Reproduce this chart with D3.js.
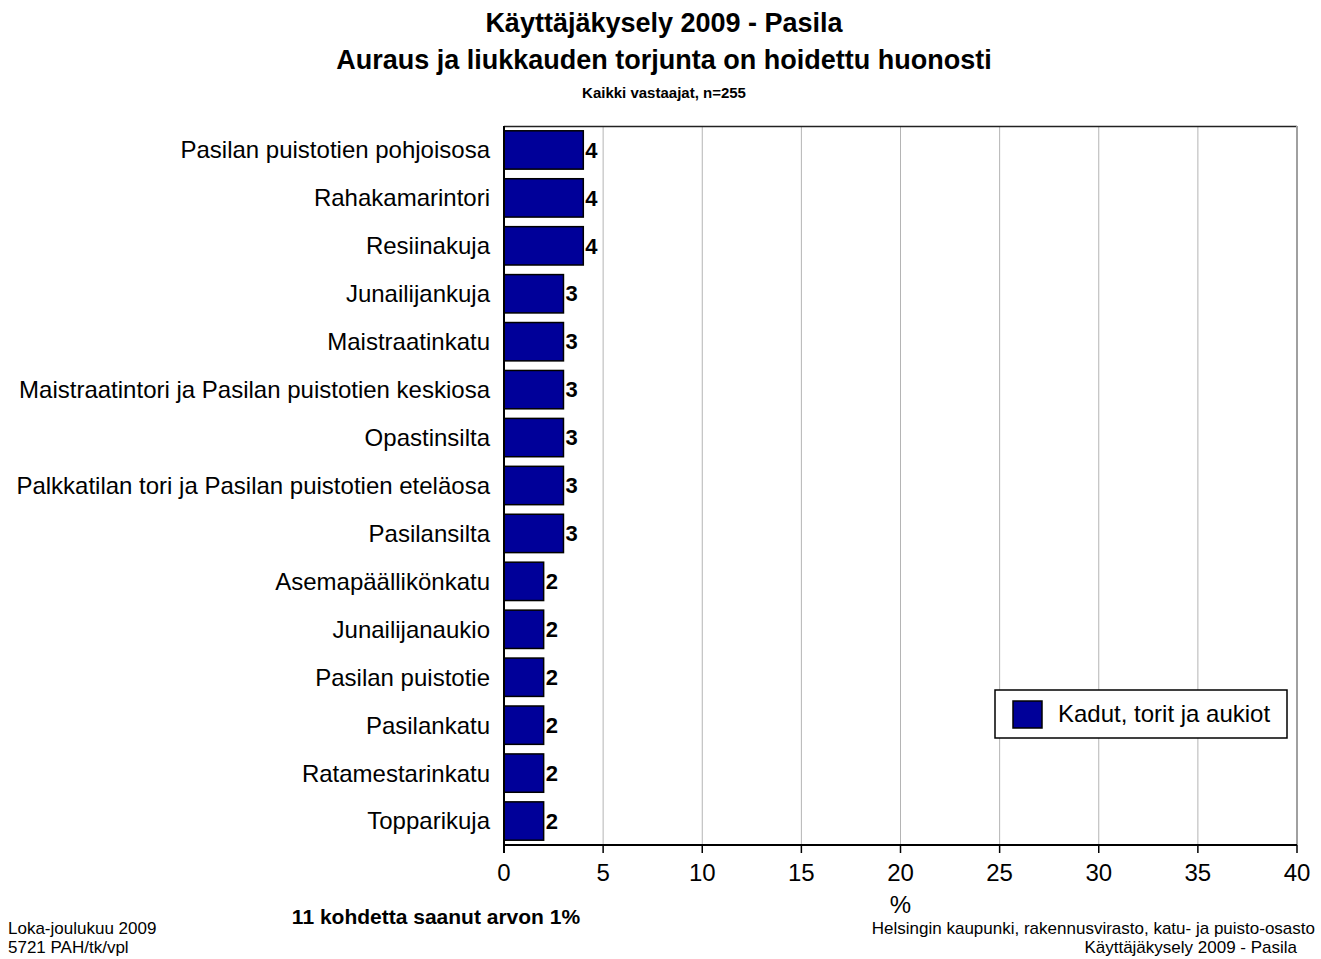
<!DOCTYPE html>
<meta charset='utf-8'>
<style>
    body { margin: 0; background: #fff; }
    text { font-family: 'Liberation Sans', Arial, sans-serif; }
</style>
<body>
    <script src='https://d3js.org/d3.v7.min.js'></script>
    <script>
        var width = 1321,
            height = 959;

        // data
        var categories = ['Pasilan puistotien pohjoisosa', 'Rahakamarintori', 'Resiinakuja',
            'Junailijankuja', 'Maistraatinkatu', 'Maistraatintori ja Pasilan puistotien keskiosa',
            'Opastinsilta', 'Palkkatilan tori ja Pasilan puistotien eteläosa', 'Pasilansilta',
            'Asemapäällikönkatu', 'Junailijanaukio', 'Pasilan puistotie', 'Pasilankatu',
            'Ratamestarinkatu', 'Topparikuja'];
        var values = [4, 4, 4, 3, 3, 3, 3, 3, 3, 2, 2, 2, 2, 2, 2];
        var ticks = [0, 5, 10, 15, 20, 25, 30, 35, 40];
        var seriesName = 'Kadut, torit ja aukiot';

        var margin = {left: 504, right: 24, top: 126, bottom: 114};
        var plotW = width - margin.left - margin.right,
            plotH = height - margin.top - margin.bottom;

        var svg = d3.select('body').append('svg')
            .attr('width', width)
            .attr('height', height);

        var x = d3.scaleLinear().domain([0, 40]).range([0, plotW]);
        var y = d3.scaleBand().domain(categories).range([0, plotH]).paddingInner(0.2).paddingOuter(0.1);

        var g = svg.append('g').attr('transform', 'translate(' + margin.left + ',' + margin.top + ')');

        // gridlines
        g.selectAll('.grid').data(ticks.slice(1, -1)).enter().append('line')
            .attr('x1', x).attr('x2', x)
            .attr('y1', 0).attr('y2', plotH)
            .attr('stroke', '#b4b4b4').attr('stroke-width', 1);

        // frame top and right
        g.append('line').attr('x1', 0).attr('x2', plotW).attr('y1', 0.5).attr('y2', 0.5)
            .attr('stroke', '#222').attr('stroke-width', 1.5);
        g.append('line').attr('x1', plotW).attr('x2', plotW).attr('y1', 0).attr('y2', plotH)
            .attr('stroke', '#a0a0a0').attr('stroke-width', 2);

        // bars
        g.selectAll('rect.bar').data(values).enter().append('rect')
            .attr('class', 'bar')
            .attr('x', 0)
            .attr('y', function(d, i) { return y(categories[i]); })
            .attr('width', function(d) { return x(d); })
            .attr('height', y.bandwidth())
            .attr('fill', '#000099')
            .attr('stroke', '#000').attr('stroke-width', 1.5);

        // value labels
        g.selectAll('text.val').data(values).enter().append('text')
            .attr('x', function(d) { return x(d) + 2; })
            .attr('y', function(d, i) { return y(categories[i]) + y.bandwidth() / 2; })
            .attr('dy', '0.35em')
            .style('font-size', '22px').style('font-weight', 'bold')
            .text(function(d) { return d; });

        // category labels
        g.selectAll('text.cat').data(categories).enter().append('text')
            .attr('x', -14)
            .attr('y', function(d) { return y(d) + y.bandwidth() / 2; })
            .attr('dy', '0.35em')
            .attr('text-anchor', 'end')
            .style('font-size', '24px')
            .text(function(d) { return d; });

        // axes lines
        g.append('line').attr('x1', 0).attr('x2', 0).attr('y1', 0).attr('y2', plotH + 8)
            .attr('stroke', '#000').attr('stroke-width', 2);
        g.append('line').attr('x1', 0).attr('x2', plotW).attr('y1', plotH).attr('y2', plotH)
            .attr('stroke', '#000').attr('stroke-width', 2);
        g.selectAll('.tick').data(ticks).enter().append('line')
            .attr('x1', x).attr('x2', x).attr('y1', plotH).attr('y2', plotH + 8)
            .attr('stroke', '#000').attr('stroke-width', 1.5);
        g.selectAll('.tlab').data(ticks).enter().append('text')
            .attr('x', x).attr('y', plotH + 36)
            .attr('text-anchor', 'middle')
            .style('font-size', '24px')
            .text(function(d) { return d; });
        g.append('text').attr('x', x(20)).attr('y', plotH + 68)
            .attr('text-anchor', 'middle').style('font-size', '24px').text('%');

        // legend
        var lg = svg.append('g').attr('transform', 'translate(995,690)');
        lg.append('rect').attr('width', 292).attr('height', 48)
            .attr('fill', '#fff').attr('stroke', '#000').attr('stroke-width', 1.5);
        lg.append('rect').attr('x', 18).attr('y', 11).attr('width', 29).attr('height', 27)
            .attr('fill', '#000099').attr('stroke', '#000').attr('stroke-width', 1.5);
        lg.append('text').attr('x', 63).attr('y', 24).attr('dy', '0.35em')
            .style('font-size', '24px').text(seriesName);

        // titles
        svg.append('text').attr('x', 664).attr('y', 32).attr('text-anchor', 'middle')
            .style('font-size', '27px').style('font-weight', 'bold').text('Käyttäjäkysely 2009 - Pasila');
        svg.append('text').attr('x', 664).attr('y', 69).attr('text-anchor', 'middle')
            .style('font-size', '27px').style('font-weight', 'bold').text('Auraus ja liukkauden torjunta on hoidettu huonosti');
        svg.append('text').attr('x', 664).attr('y', 98).attr('text-anchor', 'middle')
            .style('font-size', '15px').style('font-weight', 'bold').text('Kaikki vastaajat, n=255');

        // footer
        svg.append('text').attr('x', 436).attr('y', 924).attr('text-anchor', 'middle')
            .style('font-size', '21px').style('font-weight', 'bold').text('11 kohdetta saanut arvon 1%');
        svg.append('text').attr('x', 8).attr('y', 934).style('font-size', '17px').text('Loka-joulukuu 2009');
        svg.append('text').attr('x', 8).attr('y', 953).style('font-size', '17px').text('5721 PAH/tk/vpl');
        svg.append('text').attr('x', 1315).attr('y', 934).attr('text-anchor', 'end')
            .style('font-size', '17px').text('Helsingin kaupunki, rakennusvirasto, katu- ja puisto-osasto');
        svg.append('text').attr('x', 1297).attr('y', 953).attr('text-anchor', 'end')
            .style('font-size', '17px').text('Käyttäjäkysely 2009 - Pasila');
    </script>
</body>
